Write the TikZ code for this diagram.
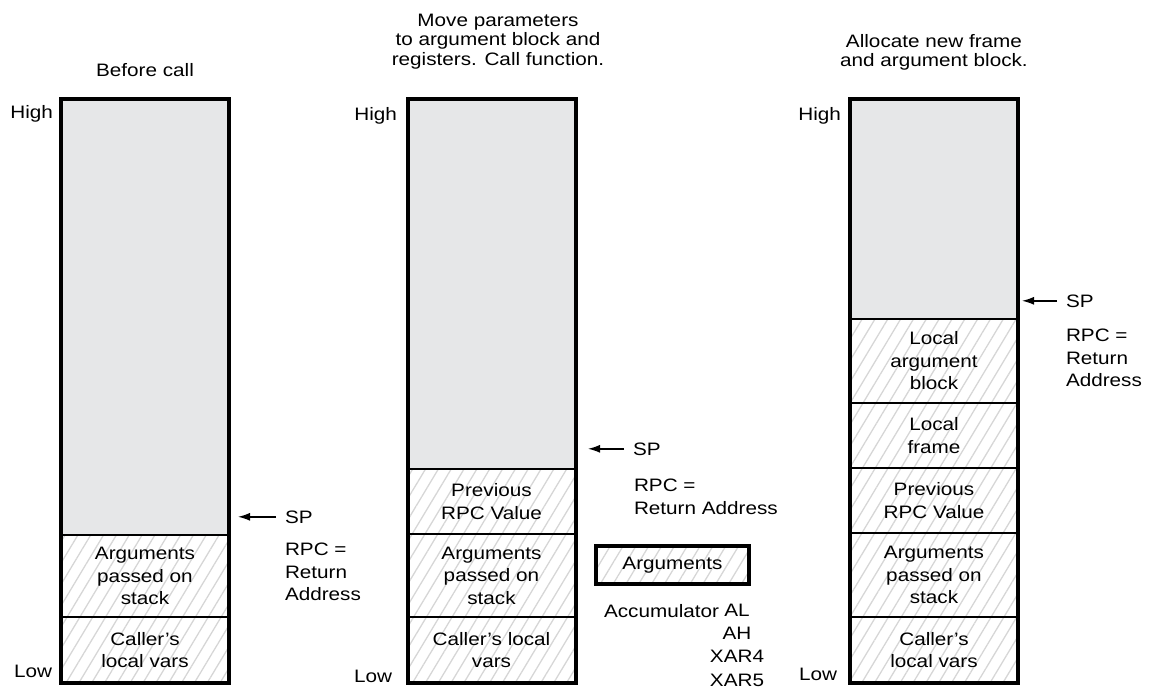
\documentclass[tikz,border=0pt]{standalone}
\usepackage{fontspec}
\setmainfont{Liberation Sans}[FakeStretch=1.15]
\usetikzlibrary{arrows.meta,patterns.meta}

\definecolor{freegray}{RGB}{230,231,232}
\definecolor{hatchgray}{RGB}{214,214,214}

\tikzset{
  cell/.style={draw,line width=2pt,minimum width=168pt,inner sep=0pt,outer sep=0pt,align=center,
    pattern={Lines[angle=59,distance=11pt,line width=1.3pt]},pattern color=hatchgray},
  free/.style={draw,line width=2pt,minimum width=168pt,inner sep=0pt,outer sep=0pt,fill=freegray},
  stackframe/.style={draw,line width=4pt},
  lbl/.style={inner sep=0pt,outer sep=0pt},
  title/.style={lbl,align=center,font=\fontsize{18}{19.5}\selectfont},
  sptext/.style={inner sep=0pt,outer sep=9pt},
  sparrow/.style={->,line width=1.4pt},
}

\begin{document}
\begin{tikzpicture}[x=1pt,y=-1pt,>={Latex[length=12pt,width=8pt]},font=\fontsize{18}{22.5}\selectfont]
\clip (0,0) rectangle (1149,686);

% before call
\node[title,anchor=north] (title1) at (145,63) {Before call};
\node[free,minimum height=436] (free1) at (145,317) {};
\node[cell,minimum height=82] (args1) at (145,576) {Arguments\\passed on\\stack};
\node[cell,minimum height=66] (caller1) at (145,650) {Caller's\\local vars};
\draw[stackframe] (free1.north west) rectangle (caller1.south east);
\node[lbl,anchor=base east] (high1) at (53,118) {High};
\node[lbl,anchor=base east] (low1) at (52,677) {Low};
\node[sptext,anchor=base west] (sp1) at (276,523) {SP};
\coordinate (sptip1) at (238,515);
\draw[sparrow] (sp1.west) -- (sptip1 |- sp1.west);
\node[lbl,anchor=north west,align=left] (rpc1) at (285,543) {RPC =\\Return\\Address};

% call function
\node[title,anchor=north] (title2) at (498,14) {Move parameters\\to argument block and\\registers. Call function.};
\node[free,minimum height=370] (free2) at (491.5,284) {};
\node[cell,minimum height=65] (prev2) at (491.5,501.5) {Previous\\RPC Value};
\node[cell,minimum height=83] (args2) at (491.5,575.5) {Arguments\\passed on\\stack};
\node[cell,minimum height=66] (caller2) at (491.5,650) {Caller's local\\vars};
\draw[stackframe] (free2.north west) rectangle (caller2.south east);
\node[lbl,anchor=base east] (high2) at (397,120) {High};
\node[lbl,anchor=base east] (low2) at (392,682) {Low};
\node[sptext,anchor=base west] (sp2) at (624,455) {SP};
\coordinate (sptip2) at (588,448);
\draw[sparrow] (sp2.west) -- (sptip2 |- sp2.west);
\node[lbl,anchor=north west,align=left] (rpc2) at (634,479) {RPC =\\Return Address};
\node[cell,line width=3.5pt,minimum width=153pt,minimum height=38pt] (argsreg) at (672.5,565) {Arguments};
\node[lbl,anchor=base west] (acc) at (604,617) {Accumulator};
\node[lbl,align=center,anchor=north,font=\fontsize{18}{23.3}\selectfont] (regs) at (737,604) {AL\\AH\\XAR4\\XAR5};

% new frame
\node[title,anchor=north] (title3) at (934,34) {Allocate new frame\\and argument block.};
\node[free,minimum height=220] (free3) at (934,209) {};
\node[cell,minimum height=84] (locarg3) at (934,361) {Local\\argument\\block};
\node[cell,minimum height=65] (locframe3) at (934,435.5) {Local\\frame};
\node[cell,minimum height=65] (prev3) at (934,500.5) {Previous\\RPC Value};
\node[cell,minimum height=84] (args3) at (934,575) {Arguments\\passed on\\stack};
\node[cell,minimum height=66] (caller3) at (934,650) {Caller's\\local vars};
\draw[stackframe] (free3.north west) rectangle (caller3.south east);
\node[lbl,anchor=base east] (high3) at (841,120) {High};
\node[lbl,anchor=base east] (low3) at (837,680) {Low};
\node[sptext,anchor=base west] (sp3) at (1057,307) {SP};
\coordinate (sptip3) at (1022,300);
\draw[sparrow] (sp3.west) -- (sptip3 |- sp3.west);
\node[lbl,anchor=north west,align=left] (rpc3) at (1066,329) {RPC =\\Return\\Address};
\end{tikzpicture}
\end{document}
